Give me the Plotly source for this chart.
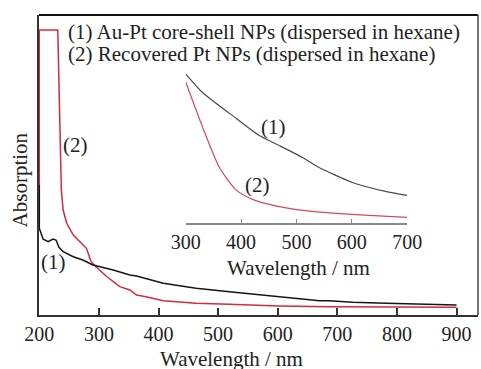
import plotly.graph_objects as go

# Main panel: curve (1) Au-Pt core-shell NPs
wl_black = [200, 200, 206.5, 215, 223, 228, 233, 240, 257, 273, 290, 324, 352, 363, 408,
            463, 519, 602, 670, 686, 726, 782, 838, 900]
ab_black = [1.3, 0.867, 0.757, 0.733, 0.76, 0.75, 0.677, 0.633, 0.583, 0.55, 0.50, 0.45, 0.40,
            0.39, 0.317, 0.267, 0.233, 0.183, 0.143, 0.143, 0.127, 0.117, 0.11, 0.10]

# Main panel: curve (2) Recovered Pt NPs
wl_red = [200, 200, 231, 233, 235, 237, 240, 246, 257, 271, 279, 283, 287, 296, 312, 335,
          352, 363, 379, 408, 463, 519, 602, 686, 800, 900]
ab_red = [0.85, 2.85, 2.85, 2.3, 1.6, 1.25, 1.05, 0.917, 0.80, 0.717, 0.667, 0.60, 0.533,
          0.477, 0.39, 0.283, 0.25, 0.20, 0.183, 0.143, 0.117, 0.107, 0.09, 0.083, 0.078, 0.077]

# Inset (300-700 nm)
wl_in_black = [300, 331, 392, 433, 469, 511, 541, 601, 661, 700]
ab_in_black = [1.50, 1.31, 1.05, 0.88, 0.78, 0.66, 0.56, 0.41, 0.32, 0.28]
wl_in_red = [300, 331, 361, 392, 421, 451, 511, 571, 631, 700]
ab_in_red = [1.42, 0.96, 0.56, 0.33, 0.24, 0.19, 0.13, 0.10, 0.08, 0.06]

main_ticks = [200, 300, 400, 500, 600, 700, 800, 900]
inset_ticks = [300, 400, 500, 600, 700]

legend_lines = ["(1) Au-Pt core-shell NPs (dispersed in hexane)",
                "(2) Recovered Pt NPs (dispersed in hexane)"]

FONT = "Liberation Serif, Times New Roman, serif"
BLACK = "#151515"
RED = "#d42a3c"

fig = go.Figure()
fig.add_trace(go.Scatter(x=wl_red, y=ab_red, mode="lines",
                         line=dict(color=RED, width=1.5), xaxis="x", yaxis="y"))
fig.add_trace(go.Scatter(x=wl_black, y=ab_black, mode="lines",
                         line=dict(color=BLACK, width=1.5), xaxis="x", yaxis="y"))
fig.add_trace(go.Scatter(x=wl_in_black, y=ab_in_black, mode="lines",
                         line=dict(color="#4a4a4a", width=1.2, shape="spline", smoothing=0.6),
                         xaxis="x2", yaxis="y2"))
fig.add_trace(go.Scatter(x=wl_in_red, y=ab_in_red, mode="lines",
                         line=dict(color="#d8475a", width=1.2, shape="spline", smoothing=0.6),
                         xaxis="x2", yaxis="y2"))

ann = []
ann.append(dict(text=legend_lines[0], xref="paper", yref="paper", x=0.0614, y=0.944,
                xanchor="left", yanchor="middle", showarrow=False,
                font=dict(family=FONT, size=21, color="#222")))
ann.append(dict(text=legend_lines[1], xref="paper", yref="paper", x=0.0614, y=0.871,
                xanchor="left", yanchor="middle", showarrow=False,
                font=dict(family=FONT, size=21, color="#222")))
for txt, x, y, xr, yr in [("(2)", 261, 1.70, "x", "y"), ("(1)", 224.5, 0.53, "x", "y"),
                          ("(1)", 458.6, 0.97, "x2", "y2"), ("(2)", 429.7, 0.38, "x2", "y2")]:
    ann.append(dict(text=txt, xref=xr, yref=yr, x=x, y=y, showarrow=False,
                    xanchor="center", yanchor="middle",
                    font=dict(family=FONT, size=21, color="#222")))
ann.append(dict(text="Absorption", xref="paper", yref="paper", x=-0.043, y=0.449,
                textangle=-90, showarrow=False, xanchor="center", yanchor="middle",
                font=dict(family=FONT, size=21, color="#222")))
ann.append(dict(text="Wavelength / nm", xref="paper", yref="paper", x=0.4386, y=-0.147,
                showarrow=False, xanchor="center", yanchor="middle",
                font=dict(family=FONT, size=21, color="#222")))
ann.append(dict(text="Wavelength / nm", xref="paper", yref="paper", x=0.592, y=0.156,
                showarrow=False, xanchor="center", yanchor="middle",
                font=dict(family=FONT, size=21, color="#222")))

shapes = [
    dict(type="line", xref="paper", yref="paper", x0=0, x1=1, y0=1, y1=1,
         line=dict(color="#111", width=1.8), layer="above"),
    dict(type="line", xref="paper", yref="paper", x0=1, x1=1, y0=0, y1=1,
         line=dict(color="#444", width=1.5), layer="above"),
]

fig.update_layout(
    width=481, height=369, autosize=False,
    margin=dict(l=39, r=3, t=15, b=54, autoexpand=False),
    paper_bgcolor="white", plot_bgcolor="white",
    showlegend=False,
    font=dict(family=FONT, size=20, color="#222"),
    xaxis=dict(range=[199.5, 936], tickvals=main_ticks, ticks="inside", ticklen=7,
               tickwidth=1.5, tickcolor="#333", showline=True, linecolor="#333",
               linewidth=2, showgrid=False, zeroline=False, automargin=False,
               tickfont=dict(family=FONT, size=20, color="#222"), anchor="y"),
    yaxis=dict(range=[0, 3.0], showticklabels=False, ticks="", showline=True,
               linecolor="#333", linewidth=2, showgrid=False,
               zeroline=False, anchor="x", automargin=False),
    xaxis2=dict(domain=[0.334, 0.8386], range=[300, 700], tickvals=inset_ticks,
                ticks="inside", ticklen=5, tickwidth=1.2, tickcolor="#888",
                showline=True, linecolor="#888", linewidth=1.5, showgrid=False,
                zeroline=False, anchor="y2", automargin=False,
                tickfont=dict(family=FONT, size=20, color="#222")),
    yaxis2=dict(domain=[0.3056, 0.8306], range=[0, 1.58], visible=False, anchor="x2"),
    annotations=ann,
    shapes=shapes,
)

fig.write_html("out.html", config={"responsive": False, "displayModeBar": False},
               post_script="document.body.style.margin='0';document.body.style.overflow='hidden';")
